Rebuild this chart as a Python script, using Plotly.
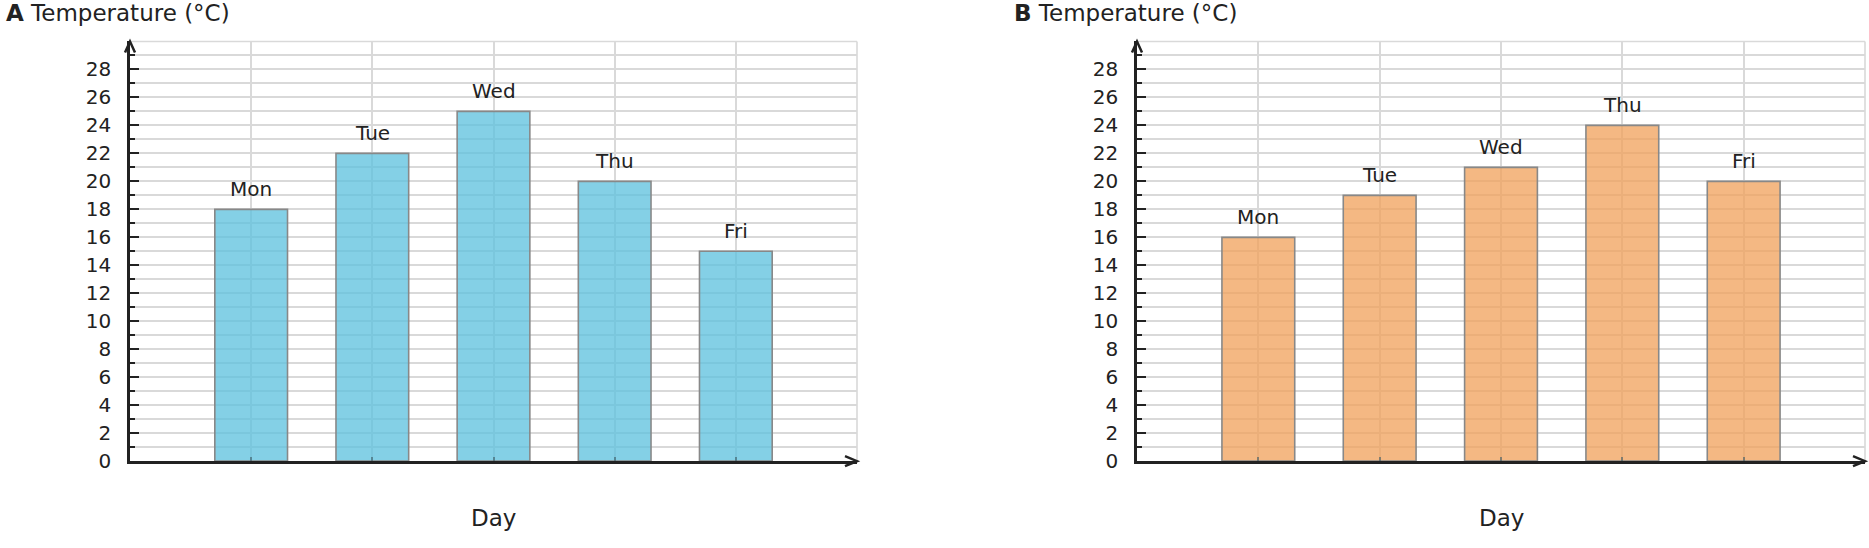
import plotly.graph_objects as go
from plotly.subplots import make_subplots

# data
days = ['Mon', 'Tue', 'Wed', 'Thu', 'Fri']
temps_a = [18, 22, 25, 20, 15]
temps_b = [16, 19, 21, 24, 20]
y_ticks = list(range(0, 29, 2))

W, H = 1869, 548
ink = '#222222'
grid = '#d9d9d9'
font = 'DejaVu Sans'


def fx(px):
    # screen x pixel -> paper fraction
    return px / W


def fy(py):
    # screen y pixel -> paper fraction
    return (H - py) / H


# pixel layout of the two panels
x_dom = [[fx(130), fx(857)], [fx(1137), fx(1865)]]
y_dom = [fy(471.5), fy(42.4)]

fig = make_subplots(rows=1, cols=2)

panels = [
    ('A', temps_a, 'rgba(91,192,222,0.75)', 4),
    ('B', temps_b, 'rgba(240,160,90,0.75)', 1012),
]

for i, (tag, vals, col, title_x) in enumerate(panels):
    n = i + 1
    fig.add_trace(go.Bar(
        x=days, y=vals, width=0.6,
        marker=dict(color=col, line=dict(color='#888888', width=1.6)),
        showlegend=False, hoverinfo='x+y',
    ), row=1, col=n)

    xa = 'x' if n == 1 else 'x2'
    ya = 'y' if n == 1 else 'y2'

    fig.update_xaxes(
        domain=x_dom[i], type='category', range=[-1, 5],
        showgrid=True, gridcolor=grid, gridwidth=1.6,
        showline=True, linecolor=ink, linewidth=2.5,
        ticks='inside', ticklen=4, tickwidth=2, tickcolor='rgba(60,90,100,0.6)',
        showticklabels=False, zeroline=False,
        row=1, col=n,
    )
    fig.update_yaxes(
        domain=y_dom, range=[0, 30],
        tickvals=y_ticks,
        showgrid=True, gridcolor=grid, gridwidth=1.6,
        showline=True, linecolor=ink, linewidth=2.5,
        ticks='inside', ticklen=9, tickwidth=2.2, tickcolor=ink,
        minor=dict(dtick=1, ticks='inside', ticklen=5, tickwidth=2, tickcolor=ink,
                   showgrid=True, gridcolor=grid, gridwidth=1.6),
        tickfont=dict(family=font, size=20, color=ink),
        ticklabelstandoff=12, zeroline=False,
        row=1, col=n,
    )

    # day labels above bars
    for d, v in zip(days, vals):
        fig.add_annotation(x=d, y=v, xref=xa, yref=ya, text=d, showarrow=False,
                           yanchor='bottom', yshift=6,
                           font=dict(family=font, size=20, color=ink))

    # panel title
    fig.add_annotation(x=fx(title_x), y=fy(-2), xref='paper', yref='paper',
                       text='<b>%s</b> Temperature (°C)' % tag, showarrow=False,
                       xanchor='left', yanchor='top',
                       font=dict(family=font, size=23, color=ink))

    # axis title
    fig.add_annotation(x=(x_dom[i][0] + x_dom[i][1]) / 2, y=fy(530),
                       xref='paper', yref='paper', text='Day', showarrow=False,
                       xanchor='center', yanchor='middle',
                       font=dict(family=font, size=23, color=ink))

    # light frame on top and right
    fig.add_shape(type='line', xref='paper', yref='paper',
                  x0=x_dom[i][0], x1=x_dom[i][1], y0=y_dom[1], y1=y_dom[1],
                  line=dict(color=grid, width=1.6), layer='below')
    fig.add_shape(type='line', xref='paper', yref='paper',
                  x0=x_dom[i][1], x1=x_dom[i][1], y0=y_dom[0], y1=y_dom[1],
                  line=dict(color=grid, width=1.6), layer='below')

    # arrow heads on the axes
    fig.add_shape(type='path', xref='paper', yref='paper',
                  xsizemode='pixel', ysizemode='pixel',
                  xanchor=x_dom[i][0], yanchor=y_dom[1],
                  path='M -5,-11 L 0,0 L 5,-11',
                  line=dict(color=ink, width=2.5))
    fig.add_shape(type='path', xref='paper', yref='paper',
                  xsizemode='pixel', ysizemode='pixel',
                  xanchor=x_dom[i][1], yanchor=y_dom[0],
                  path='M -12,5 L 0,0 L -12,-5',
                  line=dict(color=ink, width=2.5))

fig.update_layout(
    width=W, height=H,
    margin=dict(l=0, r=0, t=0, b=0),
    paper_bgcolor='white', plot_bgcolor='white',
    font=dict(family=font, color=ink),
    bargap=0.4,
)

# drop the default body margin so the figure sits at the window corner
fig.write_html('out.html', config={'displayModeBar': False},
               post_script="document.body.style.margin='0';")
